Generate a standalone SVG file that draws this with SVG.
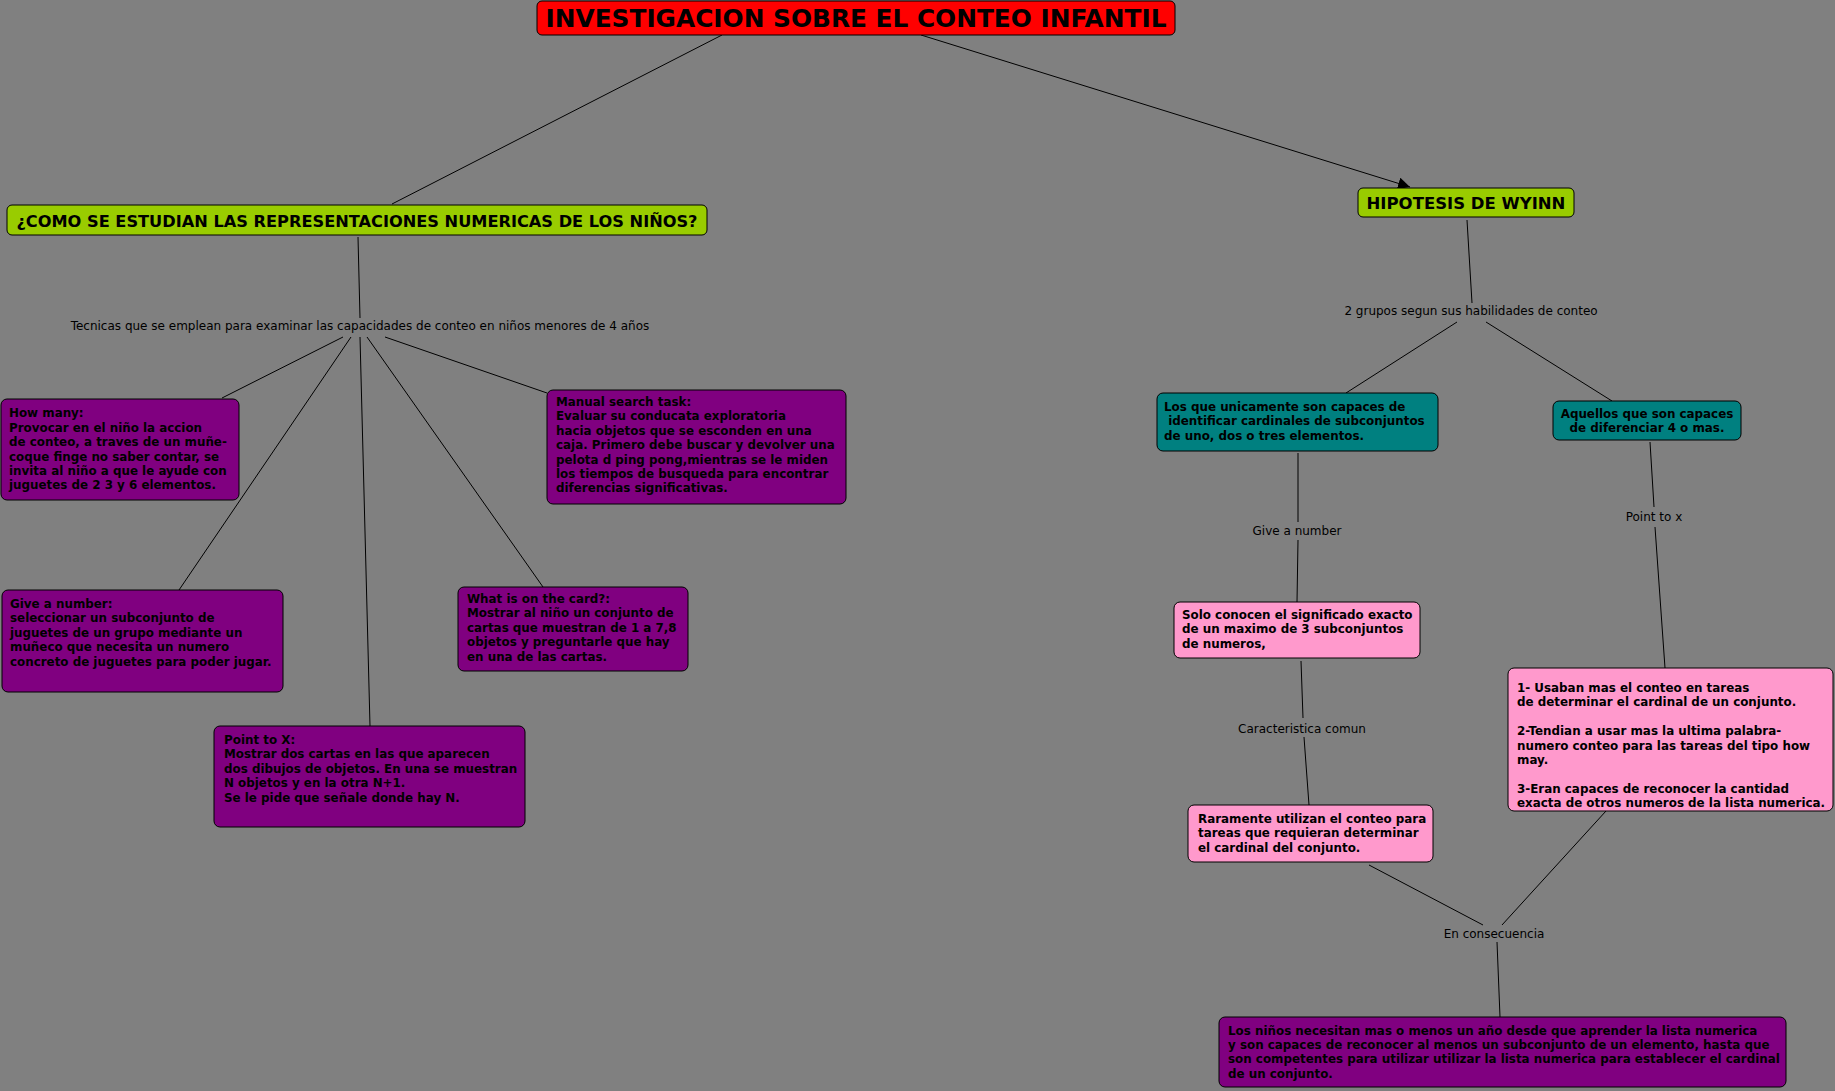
<svg xmlns="http://www.w3.org/2000/svg" width="1835" height="1091" viewBox="0 0 1835 1091">
<style>
.bx{stroke:#000;stroke-width:1}
.red{fill:#FF0000}.grn{fill:#99CC00}.pur{fill:#800080}.teal{fill:#008080}.pink{fill:#FF99CC}
.t{font-family:"DejaVu Sans",Verdana,sans-serif;font-weight:bold;font-size:11.9px;fill:#000}
.lbl{font-family:"DejaVu Sans",Verdana,sans-serif;font-size:12px;fill:#000;text-anchor:middle}
.ln{stroke:#000;stroke-width:1;fill:none}
</style>
<defs>
<marker id="arr" viewBox="0 0 10 10" refX="10" refY="5" markerWidth="12" markerHeight="12" markerUnits="userSpaceOnUse" orient="auto">
<path d="M0,0 L10,5 L0,10 z" fill="#000"/>
</marker>
</defs>
<rect width="1835" height="1091" fill="#808080"/>

<g id="connectors">
<line class="ln" x1="722" y1="35" x2="392" y2="204"/>
<line class="ln" x1="921" y1="35" x2="1410" y2="187" marker-end="url(#arr)"/>
<line class="ln" x1="358" y1="237" x2="360" y2="318"/>
<line class="ln" x1="343" y1="337" x2="222" y2="398"/>
<line class="ln" x1="351" y1="337" x2="179" y2="590"/>
<line class="ln" x1="360" y1="337" x2="370" y2="726"/>
<line class="ln" x1="367" y1="337" x2="543" y2="587"/>
<line class="ln" x1="385" y1="337" x2="547" y2="393"/>
<line class="ln" x1="1467" y1="220" x2="1472" y2="303"/>
<line class="ln" x1="1457" y1="322" x2="1346" y2="393"/>
<line class="ln" x1="1486" y1="322" x2="1612" y2="401"/>
<line class="ln" x1="1298" y1="453" x2="1298" y2="522"/>
<line class="ln" x1="1298" y1="540" x2="1297" y2="602"/>
<line class="ln" x1="1650" y1="442" x2="1654" y2="507"/>
<line class="ln" x1="1655" y1="527" x2="1665" y2="668"/>
<line class="ln" x1="1301" y1="661" x2="1303" y2="718"/>
<line class="ln" x1="1304" y1="737" x2="1309" y2="805"/>
<line class="ln" x1="1369" y1="865" x2="1483" y2="925"/>
<line class="ln" x1="1606" y1="811" x2="1502" y2="925"/>
<line class="ln" x1="1497" y1="942" x2="1500" y2="1017"/>
</g>

<g id="labels">
<text class="lbl" x="360" y="330">Tecnicas que se emplean para examinar las capacidades de conteo en niños menores de 4 años</text>
<text class="lbl" x="1471" y="315">2 grupos segun sus habilidades de conteo</text>
<text class="lbl" x="1297" y="535">Give a number</text>
<text class="lbl" x="1654" y="521">Point to x</text>
<text class="lbl" x="1302" y="733">Caracteristica comun</text>
<text class="lbl" x="1494" y="938">En consecuencia</text>
</g>

<g id="title">
<rect class="bx red" x="537" y="1" width="638" height="34" rx="5"/>
<text x="856" y="27" text-anchor="middle" style="font-family:'DejaVu Sans',Verdana,sans-serif;font-weight:bold;font-size:24.8px">INVESTIGACION SOBRE EL CONTEO INFANTIL</text>
</g>

<g id="como">
<rect class="bx grn" x="7" y="205" width="700" height="30" rx="5"/>
<text x="357" y="227" text-anchor="middle" style="font-family:'DejaVu Sans',Verdana,sans-serif;font-weight:bold;font-size:16.2px">¿COMO SE ESTUDIAN LAS REPRESENTACIONES NUMERICAS DE LOS NIÑOS?</text>
</g>

<g id="hipotesis">
<rect class="bx grn" x="1358" y="188" width="216" height="29" rx="5"/>
<text x="1466" y="209" text-anchor="middle" style="font-family:'DejaVu Sans',Verdana,sans-serif;font-weight:bold;font-size:16.5px">HIPOTESIS DE WYINN</text>
</g>

<g id="howmany">
<rect class="bx pur" x="1" y="399" width="238" height="101" rx="6"/>
<text class="t"><tspan x="9" y="417.3">How many:</tspan><tspan x="9" y="431.7">Provocar en el niño la accion</tspan><tspan x="9" y="446.1">de conteo, a traves de un muñe-</tspan><tspan x="9" y="460.5">coque finge no saber contar, se</tspan><tspan x="9" y="474.9">invita al niño a que le ayude con</tspan><tspan x="9" y="489.3">juguetes de 2 3 y 6 elementos.</tspan></text>
</g>

<g id="manual">
<rect class="bx pur" x="547" y="390" width="299" height="114" rx="6"/>
<text class="t"><tspan x="556" y="406">Manual search task:</tspan><tspan x="556" y="420.4">Evaluar su conducata exploratoria</tspan><tspan x="556" y="434.8">hacia objetos que se esconden en una</tspan><tspan x="556" y="449.2">caja. Primero debe buscar y devolver una</tspan><tspan x="556" y="463.6">pelota d ping pong,mientras se le miden</tspan><tspan x="556" y="478">los tiempos de busqueda para encontrar</tspan><tspan x="556" y="492.4">diferencias significativas.</tspan></text>
</g>

<g id="givenumber">
<rect class="bx pur" x="2" y="590" width="281" height="102" rx="6"/>
<text class="t"><tspan x="10" y="608">Give a number:</tspan><tspan x="10" y="622.4">seleccionar un subconjunto de</tspan><tspan x="10" y="636.8">juguetes de un grupo mediante un</tspan><tspan x="10" y="651.2">muñeco que necesita un numero</tspan><tspan x="10" y="665.6">concreto de juguetes para poder jugar.</tspan></text>
</g>

<g id="card">
<rect class="bx pur" x="458" y="587" width="230" height="84" rx="6"/>
<text class="t"><tspan x="467" y="603">What is on the card?:</tspan><tspan x="467" y="617.4">Mostrar al niño un conjunto de</tspan><tspan x="467" y="631.8">cartas que muestran de 1 a 7,8</tspan><tspan x="467" y="646.2">objetos y preguntarle que hay</tspan><tspan x="467" y="660.6">en una de las cartas.</tspan></text>
</g>

<g id="pointx">
<rect class="bx pur" x="214" y="726" width="311" height="101" rx="6"/>
<text class="t"><tspan x="224" y="744">Point to X:</tspan><tspan x="224" y="758.4">Mostrar dos cartas en las que aparecen</tspan><tspan x="224" y="772.8">dos dibujos de objetos. En una se muestran</tspan><tspan x="224" y="787.2">N objetos y en la otra N+1.</tspan><tspan x="224" y="801.6">Se le pide que señale donde hay N.</tspan></text>
</g>

<g id="losque">
<rect class="bx teal" x="1157" y="393" width="281" height="58" rx="6"/>
<text class="t" xml:space="preserve"><tspan x="1164" y="411">Los que unicamente son capaces de</tspan><tspan x="1164" y="425.4"> identificar cardinales de subconjuntos</tspan><tspan x="1164" y="439.8">de uno, dos o tres elementos.</tspan></text>
</g>

<g id="aquellos">
<rect class="bx teal" x="1553" y="401" width="188" height="39" rx="6"/>
<text class="t" text-anchor="middle"><tspan x="1647" y="418">Aquellos que son capaces</tspan><tspan x="1647" y="432.4">de diferenciar 4 o mas.</tspan></text>
</g>

<g id="solo">
<rect class="bx pink" x="1174" y="602" width="246" height="56" rx="6"/>
<text class="t"><tspan x="1182" y="619">Solo conocen el significado exacto</tspan><tspan x="1182" y="633.4">de un maximo de 3 subconjuntos</tspan><tspan x="1182" y="647.8">de numeros,</tspan></text>
</g>

<g id="raramente">
<rect class="bx pink" x="1188" y="805" width="245" height="57" rx="6"/>
<text class="t"><tspan x="1198" y="823">Raramente utilizan el conteo para</tspan><tspan x="1198" y="837.4">tareas que requieran determinar</tspan><tspan x="1198" y="851.8">el cardinal del conjunto.</tspan></text>
</g>

<g id="usaban">
<rect class="bx pink" x="1508" y="668" width="325" height="143" rx="6"/>
<text class="t"><tspan x="1517" y="692">1- Usaban mas el conteo en tareas</tspan><tspan x="1517" y="706.4">de determinar el cardinal de un conjunto.</tspan><tspan x="1517" y="735.2">2-Tendian a usar mas la ultima palabra-</tspan><tspan x="1517" y="749.6">numero conteo para las tareas del tipo how</tspan><tspan x="1517" y="764">may.</tspan><tspan x="1517" y="792.8">3-Eran capaces de reconocer la cantidad</tspan><tspan x="1517" y="807.2">exacta de otros numeros de la lista numerica.</tspan></text>
</g>

<g id="ninos">
<rect class="bx pur" x="1219" y="1017" width="567" height="70" rx="6"/>
<text class="t"><tspan x="1228" y="1034.5">Los niños necesitan mas o menos un año desde que aprender la lista numerica</tspan><tspan x="1228" y="1048.9">y son capaces de reconocer al menos un subconjunto de un elemento, hasta que</tspan><tspan x="1228" y="1063.3">son competentes para utilizar utilizar la lista numerica para establecer el cardinal</tspan><tspan x="1228" y="1077.7">de un conjunto.</tspan></text>
</g>
</svg>
